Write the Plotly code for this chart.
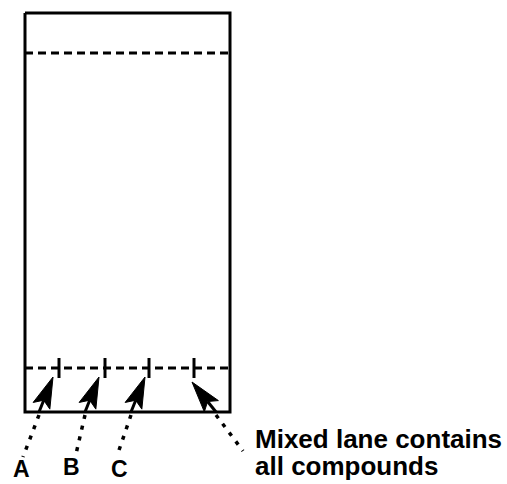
import math
import plotly.graph_objects as go

# Plate geometry (drawing units = px of the 507x484 canvas)
plate_left, plate_right = 25, 230
plate_top, plate_bottom = 13, 412
front_y = 53          # solvent front
origin_y = 368        # baseline (spotting line)
lane_x = [59, 105, 149, 194]
tick_half = 10

# Arrows: tip inside plate, tail on plate bottom, dotted leader to label
arrow_tip_x = [53, 99, 145, 192]
arrow_tip_y = [377, 377, 377, 382]
arrow_tail_x = [39, 85, 131, 216]
dot_end_x = [23, 76, 117, 243]
dot_end_y = [457, 454, 456, 451]

labels = ["A", "B", "C", "Mixed lane contains", "all compounds"]
label_x = [21, 71, 119, 254, 254]
label_y = [469, 467, 469, 439, 466]
label_size = [23, 23, 23, 26, 26]

fig = go.Figure()
black = "black"

# plate outline
fig.add_trace(go.Scatter(
    x=[plate_left, plate_right, plate_right, plate_left, plate_left],
    y=[plate_top, plate_top, plate_bottom, plate_bottom, plate_top],
    mode="lines", line=dict(color=black, width=3), hoverinfo="skip"))

# solvent front and baseline dashed
for yy in [front_y, origin_y]:
    fig.add_trace(go.Scatter(
        x=[plate_left, plate_right], y=[yy, yy], mode="lines",
        line=dict(color=black, width=3, dash="8px,5px"), hoverinfo="skip"))

# lane tick marks
for lx in lane_x:
    fig.add_trace(go.Scatter(
        x=[lx, lx], y=[origin_y - tick_half, origin_y + tick_half], mode="lines",
        line=dict(color=black, width=3), hoverinfo="skip"))

# arrows
head_len, head_half, notch = 31, 9, 6
for tx, ty, bx, ex, ey in zip(arrow_tip_x, arrow_tip_y, arrow_tail_x, dot_end_x, dot_end_y):
    by = plate_bottom
    dx, dy = tx - bx, ty - by
    L = math.hypot(dx, dy)
    ux, uy = dx / L, dy / L
    px, py = -uy, ux
    hbx, hby = tx - ux * head_len, ty - uy * head_len
    nx, ny = tx - ux * (head_len - notch), ty - uy * (head_len - notch)
    # shaft
    fig.add_trace(go.Scatter(x=[bx, nx], y=[by, ny], mode="lines",
                             line=dict(color=black, width=3), hoverinfo="skip"))
    # head
    fig.add_trace(go.Scatter(
        x=[tx, hbx + px * head_half, nx, hbx - px * head_half, tx],
        y=[ty, hby + py * head_half, ny, hby - py * head_half, ty],
        mode="lines", fill="toself", fillcolor=black,
        line=dict(color=black, width=1), hoverinfo="skip"))
    # dotted leader
    fig.add_trace(go.Scatter(x=[bx, ex], y=[by + 3, ey], mode="lines",
                             line=dict(color=black, width=3.5, dash="4px,7px"),
                             hoverinfo="skip"))

for i, (t, x, y, s) in enumerate(zip(labels, label_x, label_y, label_size)):
    fig.add_annotation(x=x, y=y, text=t, showarrow=False,
                       xanchor="center" if i < 3 else "left", yanchor="middle",
                       align="left", borderpad=0,
                       font=dict(family="Liberation Sans", size=s, color=black,
                                 weight="bold"))

fig.update_layout(
    width=507, height=484, margin=dict(l=0, r=0, t=0, b=0),
    paper_bgcolor="white", plot_bgcolor="white", showlegend=False,
    xaxis=dict(range=[0, 507], visible=False, fixedrange=True),
    yaxis=dict(range=[484, 0], visible=False, fixedrange=True),
)
fig.write_html("out.html",
               config={"displayModeBar": False, "staticPlot": True},
               post_script="document.body.style.margin='0';"
                           "document.body.style.overflow='hidden';")
